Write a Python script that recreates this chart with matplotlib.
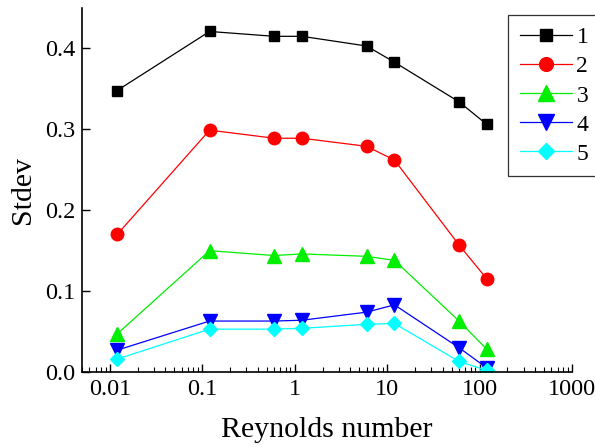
import numpy as np
import matplotlib.pyplot as plt

plt.rcParams['font.family'] = ['Liberation Serif', 'DejaVu Serif']

# Reynolds numbers and stdev for each series
reynolds = [0.012, 0.12, 0.6, 1.2, 6, 12, 60, 120]
s1 = [0.348, 0.421, 0.415, 0.415, 0.403, 0.383, 0.334, 0.306]
s2 = [0.170, 0.299, 0.289, 0.289, 0.279, 0.262, 0.157, 0.115]
s3 = [0.047, 0.150, 0.144, 0.146, 0.143, 0.138, 0.063, 0.028]
s4 = [0.027, 0.063, 0.063, 0.064, 0.074, 0.083, 0.030, 0.005]
s5 = [0.016, 0.053, 0.053, 0.054, 0.059, 0.060, 0.013, 0.002]
labels = ['1', '2', '3', '4', '5']

fig = plt.figure(figsize=(5.95, 4.47), dpi=100)
ax = fig.add_axes([82/595, (447-372)/447, (572-82)/595, (372-8)/447])

styles = [('black', 's', 7.5), ('red', 'o', 9), ('#00ee00', '^', 10),
          ('blue', 'v', 10), ('cyan', 'D', 7.5)]
for ys, lab, (c, m, ms) in zip([s1, s2, s3, s4, s5], labels, styles):
    ax.plot(reynolds, ys, color=c, marker=m, markersize=ms, lw=0.9,
            markeredgecolor=c, label=lab)

ax.set_xscale('log')
ax.set_xlim(0.005, 1000)
ax.set_ylim(0, 0.45)
ax.set_xticks([0.01, 0.1, 1, 10, 100, 1000])
ax.set_xticklabels(['0.01', '0.1', '1', '10', '100', '1000'])
ax.set_yticks([0.0, 0.1, 0.2, 0.3, 0.4])
ax.set_yticklabels(['0.0', '0.1', '0.2', '0.3', '0.4'])
ax.tick_params(direction='in', labelsize=17.5, length=6, width=1, pad=5)
ax.tick_params(which='minor', direction='in', length=3.5, width=0.8)
ax.spines['top'].set_visible(False)
ax.spines['right'].set_visible(False)
ax.spines['left'].set_linewidth(1.2)
ax.spines['bottom'].set_linewidth(1.2)

ax.set_xlabel('Reynolds number', fontsize=21.5, labelpad=12)
ax.set_ylabel('Stdev', fontsize=21.5, labelpad=6)

leg = ax.legend(loc='upper left', bbox_to_anchor=(508/595, 1 - 15/447),
                bbox_transform=fig.transFigure, fontsize=17, markerscale=1.1,
                handlelength=2.2, frameon=True, fancybox=False, edgecolor='black',
                borderaxespad=0, borderpad=0.5, labelspacing=0.32,
                handletextpad=0.2)
leg.get_frame().set_linewidth(0.9)

fig.savefig('out.png', dpi=100)
